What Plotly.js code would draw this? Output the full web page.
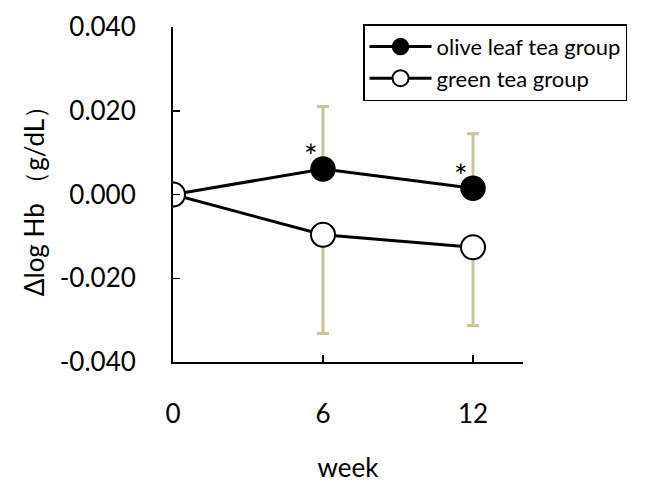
<!DOCTYPE html>
<html>
<head>
<meta charset="utf-8">
<script src="https://cdn.plot.ly/plotly-3.0.1.min.js"></script>
<style>html,body{margin:0;padding:0;background:#fff;}#chart{width:649px;height:483px;}</style>
</head>
<body>
<div id="chart"></div>
<script>
const weeks = [0, 6, 12];
const oliveMean = [0, 0.0061, 0.0015];
const oliveErrUp = [0, 0.0149, 0.0130];
const greenMean = [0, -0.0096, -0.0126];
const greenErrDown = [0, 0.0236, 0.0187];
const tickVals = [-0.04, -0.02, 0, 0.02, 0.04];
const tickText = ["-0.040", "-0.020", "0.000", "0.020", "0.040"];
const sigWeeks = [6, 12];

const FONT = "Lato, 'Open Sans', sans-serif";
const errColor = "#cdc39b";

const olive = {
  x: weeks, y: oliveMean, name: "olive leaf tea group", type: "scatter", mode: "lines+markers",
  line: {color: "#000", width: 3},
  marker: {size: 24, color: "#000", line: {color: "#000", width: 1.5}},
  error_y: {type: "data", symmetric: false, array: oliveErrUp, arrayminus: weeks.map(() => 0),
            color: errColor, thickness: 3, width: 6}
};
const green = {
  x: weeks, y: greenMean, name: "green tea group", type: "scatter", mode: "lines+markers",
  line: {color: "#000", width: 3},
  marker: {size: 24, color: "#fff", line: {color: "#000", width: 2}},
  error_y: {type: "data", symmetric: false, array: weeks.map(() => 0), arrayminus: greenErrDown,
            color: errColor, thickness: 3, width: 6}
};

const annotations = sigWeeks.map(w => ({
  x: w, y: oliveMean[weeks.indexOf(w)], xref: "x", yref: "y", text: "*", showarrow: false,
  xshift: -12, yshift: 13, font: {family: FONT, size: 32, color: "#000"}
}));

const layout = {
  width: 649, height: 483,
  margin: {l: 173, r: 126, t: 27, b: 121},
  paper_bgcolor: "#fff", plot_bgcolor: "#fff",
  font: {family: FONT, color: "#000"},
  showlegend: true,
  legend: {x: 0.543, y: 1.008, xanchor: "left", yanchor: "top",
           bordercolor: "#000", borderwidth: 1.5, bgcolor: "#fff",
           font: {family: FONT, size: 22, color: "#000"}, tracegroupgap: 0, itemwidth: 62},
  xaxis: {range: [0, 14], tickvals: weeks, ticktext: weeks.map(String),
          ticks: "inside", ticklen: 7, tickwidth: 1.5, tickcolor: "#000",
          showline: true, linecolor: "#000", linewidth: 2, showgrid: false, zeroline: false,
          tickfont: {family: FONT, size: 26, color: "#000"}, ticklabelstandoff: 28,
          title: {text: "week", font: {family: FONT, size: 26, color: "#000"}, standoff: 32}},
  yaxis: {range: [-0.04, 0.04], tickvals: tickVals, ticktext: tickText,
          ticks: "inside", ticklen: 7, tickwidth: 1.5, tickcolor: "#000",
          showline: true, linecolor: "#000", linewidth: 2, showgrid: false, zeroline: false,
          tickfont: {family: FONT, size: 26, color: "#000"}, ticklabelstandoff: 30,
          title: {text: "Δlog Hb （g/dL）", font: {family: FONT, size: 26, color: "#000"}, standoff: 8}},
  annotations: annotations
};

Plotly.newPlot("chart", [olive, green], layout, {displayModeBar: false, staticPlot: true});
</script>
</body>
</html>
